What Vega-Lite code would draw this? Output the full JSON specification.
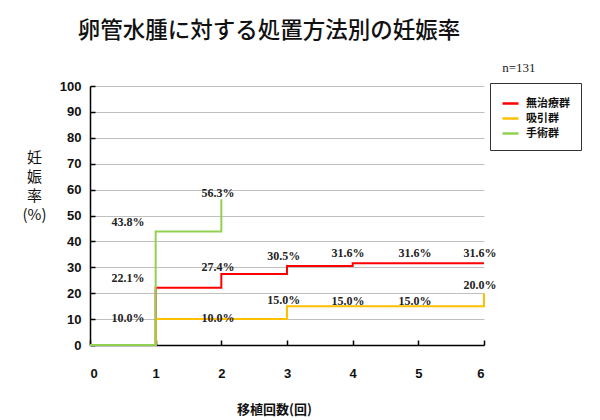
{
  "$schema": "https://vega.github.io/schema/vega-lite/v6.json",
  "width": 394,
  "height": 259,
  "autosize": {"type": "none"},
  "padding": {"left": 90, "top": 86, "right": 116, "bottom": 75},
  "background": "white",
  "title": {"text": "卵管水腫に対する処置方法別の妊娠率", "font": "Noto Sans CJK JP", "fontSize": 22.5, "fontWeight": 500, "color": "#111", "anchor": "middle", "offset": 19, "dx": -18},
  "config": {"view": {"stroke": null}},
  "datasets": {
    "lines": [
      {"series": "無治療群", "x": 0, "y": 0},
      {"series": "無治療群", "x": 1, "y": 22.1},
      {"series": "無治療群", "x": 2, "y": 27.4},
      {"series": "無治療群", "x": 3, "y": 30.5},
      {"series": "無治療群", "x": 4, "y": 31.6},
      {"series": "無治療群", "x": 5, "y": 31.6},
      {"series": "無治療群", "x": 6, "y": 31.6},
      {"series": "吸引群", "x": 0, "y": 0},
      {"series": "吸引群", "x": 1, "y": 10.0},
      {"series": "吸引群", "x": 2, "y": 10.0},
      {"series": "吸引群", "x": 3, "y": 15.0},
      {"series": "吸引群", "x": 4, "y": 15.0},
      {"series": "吸引群", "x": 5, "y": 15.0},
      {"series": "吸引群", "x": 6, "y": 20.0},
      {"series": "手術群", "x": 0, "y": 0},
      {"series": "手術群", "x": 1, "y": 43.8},
      {"series": "手術群", "x": 2, "y": 56.3}
    ],
    "labels": [
      {"x": 0.58, "y": 47.6, "label": "43.8%"},
      {"x": 0.58, "y": 25.7, "label": "22.1%"},
      {"x": 0.58, "y": 10.5, "label": "10.0%"},
      {"x": 1.95, "y": 58.8, "label": "56.3%"},
      {"x": 1.95, "y": 30.3, "label": "27.4%"},
      {"x": 1.95, "y": 10.5, "label": "10.0%"},
      {"x": 2.95, "y": 34.5, "label": "30.5%"},
      {"x": 2.95, "y": 17.2, "label": "15.0%"},
      {"x": 3.93, "y": 35.6, "label": "31.6%"},
      {"x": 4.95, "y": 35.6, "label": "31.6%"},
      {"x": 5.94, "y": 35.6, "label": "31.6%"},
      {"x": 3.93, "y": 16.9, "label": "15.0%"},
      {"x": 4.95, "y": 16.9, "label": "15.0%"},
      {"x": 5.94, "y": 23.0, "label": "20.0%"}
    ],
    "note": [
      {"x": 6.53, "y": 107, "label": "n=131"}
    ]
  },
  "encoding": {
    "x": {
      "field": "x", "type": "quantitative",
      "scale": {"domain": [0, 6], "nice": false},
      "axis": {
        "values": [0, 1, 2, 3, 4, 5, 6],
        "grid": false,
        "tickSize": -5, "tickColor": "#000", "tickWidth": 1.5,
        "domainColor": "#000", "domainWidth": 1.5,
        "labelFont": "Liberation Sans", "labelFontWeight": "bold", "labelFontSize": 13, "labelColor": "#111",
        "labelPadding": 27,
        "title": "移植回数(回)",
        "titleFont": "Noto Sans CJK JP", "titleFontWeight": "bold", "titleFontSize": 13, "titleColor": "#111",
        "titleX": 184, "titleY": 64, "titleBaseline": "middle", "titleAlign": "center"
      }
    },
    "y": {
      "field": "y", "type": "quantitative",
      "scale": {"domain": [0, 100], "nice": false},
      "axis": {
        "values": [0, 10, 20, 30, 40, 50, 60, 70, 80, 90, 100],
        "grid": true, "gridColor": "#c0c0c0", "gridWidth": 1,
        "tickSize": -5, "tickColor": "#000", "tickWidth": 1.5,
        "domainColor": "#000", "domainWidth": 1.5,
        "labelFont": "Liberation Sans", "labelFontWeight": "bold", "labelFontSize": 13, "labelColor": "#111",
        "labelPadding": 14,
        "title": ["妊", "娠", "率", "(%)"],
        "titleAngle": 0, "titleAlign": "center", "titleBaseline": "top",
        "titleX": -56, "titleY": 64,
        "titleFont": "Noto Sans CJK JP", "titleFontWeight": "normal", "titleFontSize": 15, "titleLineHeight": 19, "titleColor": "#111"
      }
    }
  },
  "layer": [
    {
      "data": {"name": "lines"},
      "transform": [{"filter": "datum.series === '無治療群'"}],
      "mark": {"type": "line", "interpolate": "step-after", "strokeWidth": 2},
      "encoding": {
        "color": {
          "field": "series", "type": "nominal",
          "scale": {"domain": ["無治療群", "吸引群", "手術群"], "range": ["#ff0000", "#ffc000", "#92d050"]},
          "legend": {
            "orient": "none", "legendX": 400, "legendY": -3,
            "title": null,
            "symbolType": "stroke", "symbolSize": 256, "symbolStrokeWidth": 2.5,
            "labelFont": "Noto Sans CJK JP", "labelFontWeight": "bold", "labelFontSize": 11, "labelColor": "#111",
            "labelOffset": 6,
            "rowPadding": -5,
            "padding": 11,
            "strokeColor": "#333", "fillColor": "white"
          }
        }
      }
    },
    {
      "data": {"name": "lines"},
      "transform": [{"filter": "datum.series === '吸引群'"}],
      "mark": {"type": "line", "interpolate": "step-after", "strokeWidth": 2},
      "encoding": {"color": {"field": "series", "type": "nominal"}}
    },
    {
      "data": {"name": "lines"},
      "transform": [{"filter": "datum.series === '手術群'"}],
      "mark": {"type": "line", "interpolate": "step-after", "strokeWidth": 2},
      "encoding": {"color": {"field": "series", "type": "nominal"}}
    },
    {
      "data": {"name": "labels"},
      "mark": {"type": "text", "font": "Liberation Serif", "fontSize": 12, "fontWeight": "bold", "color": "#222"},
      "encoding": {"text": {"field": "label"}}
    },
    {
      "data": {"name": "note"},
      "mark": {"type": "text", "font": "Liberation Serif", "fontSize": 13, "color": "#222"},
      "encoding": {"text": {"field": "label"}}
    }
  ]
}
